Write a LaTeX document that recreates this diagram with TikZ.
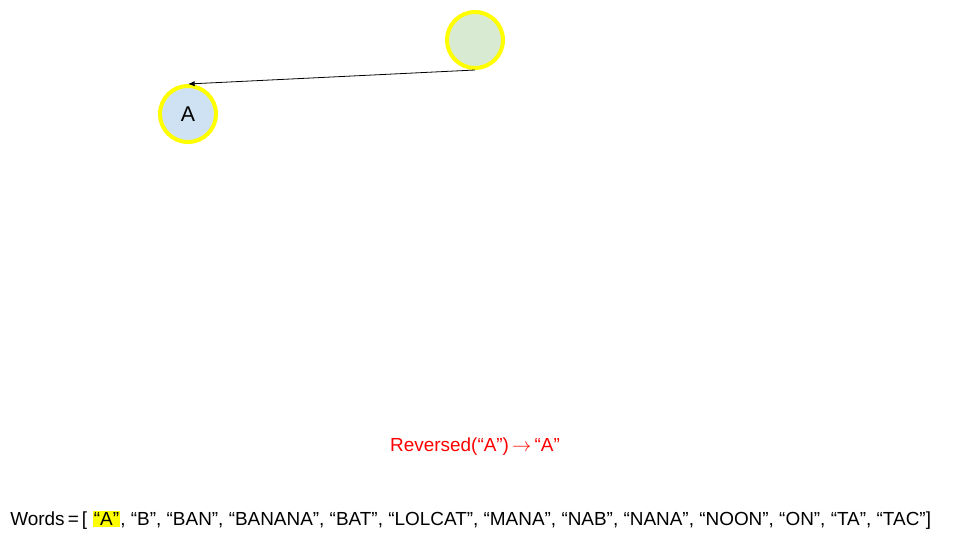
\documentclass[tikz,border=0pt]{standalone}
\usepackage{fontspec}
\setmainfont{Liberation Sans}
\usetikzlibrary{arrows.meta}
\definecolor{ringyellow}{RGB}{255,255,0}
\definecolor{greenfill}{RGB}{217,234,211}
\definecolor{bluefill}{RGB}{207,226,243}
\definecolor{redtext}{RGB}{255,0,0}
\tikzset{
  ring/.style={circle, draw=ringyellow, line width=3pt, minimum size=42pt, inner sep=0pt, font=\fontsize{16}{19}\selectfont},
  link/.style={-{Latex[length=5pt,width=4pt]}, line width=0.6pt},
  hl/.style={fill=ringyellow, inner sep=1pt}
}
\begin{document}
\begin{tikzpicture}[x=0.75pt,y=-0.75pt]
\useasboundingbox (0,0) rectangle (960,540);
\node[ring, fill=greenfill] (g) at (475,40) {};
\node[ring, fill=bluefill] (a) at (188,114) {A};
\draw[link] (g.south) -- (a.north);
\node[text=redtext, font=\fontsize{14.2}{17}\selectfont] (rev) at (475,447) {Reversed(“A”)\,$\rightarrow$\,“A”};
\node[anchor=west, inner sep=0pt, font=\fontsize{14.2}{17}\selectfont] (words) at (10,520) {Words\,=\,[ \tikz[baseline=(h.base)]\node[hl] (h) {“A”};, “B”, “BAN”, “BANANA”, “BAT”, “LOLCAT”, “MANA”, “NAB”, “NANA”, “NOON”, “ON”, “TA”, “TAC”]};
\end{tikzpicture}
\end{document}
